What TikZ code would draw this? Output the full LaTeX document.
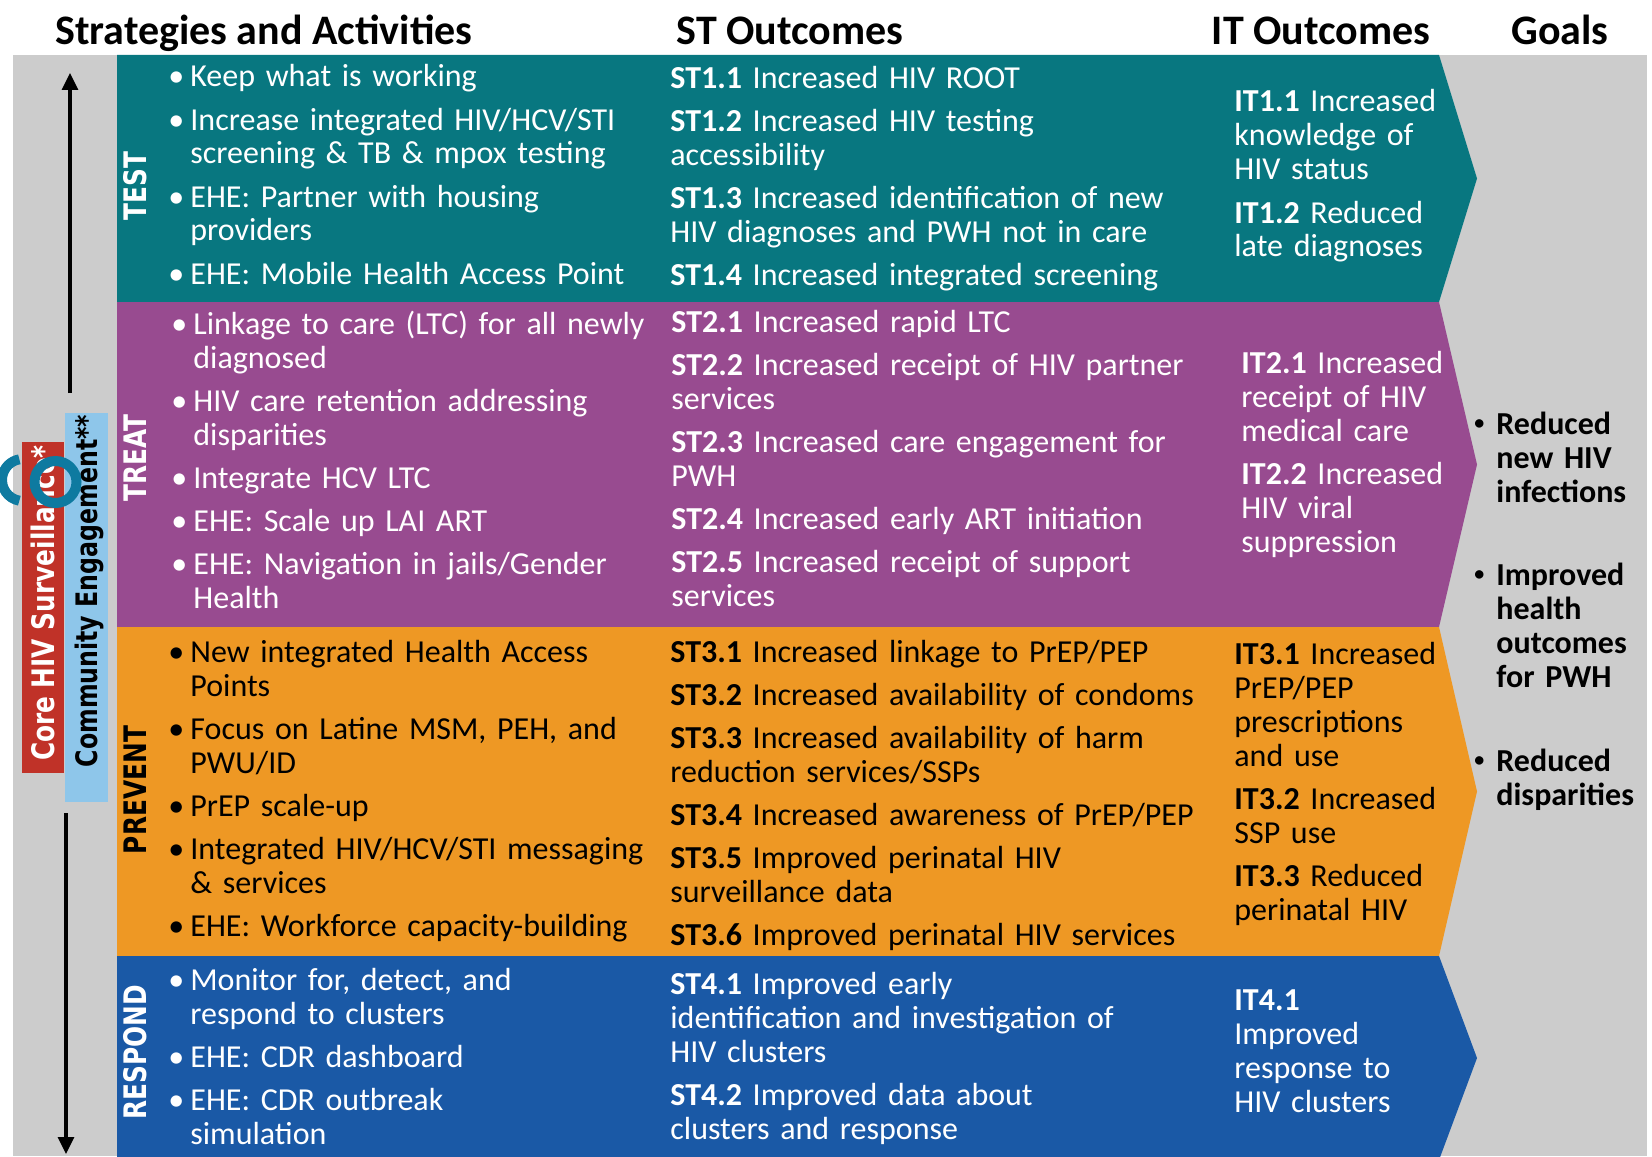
\documentclass[tikz,border=0pt]{standalone}
\usepackage{fontspec}
\setmainfont{Carlito}
\newfontfamily\lblfont[FakeStretch=0.8]{DejaVu Sans}
\usetikzlibrary{arrows.meta}

\definecolor{bandteal}{RGB}{8,119,128}
\definecolor{bandpurple}{RGB}{152,75,144}
\definecolor{bandorange}{RGB}{238,152,36}
\definecolor{bandblue}{RGB}{26,89,166}
\definecolor{bggray}{RGB}{204,204,204}
\definecolor{corered}{RGB}{192,50,40}
\definecolor{commblue}{RGB}{142,198,234}
\definecolor{ringblue}{RGB}{14,122,160}

\newcommand{\bul}{\leavevmode\llap{\textbullet\hspace{3pt}}}
\newcommand{\gbul}{\leavevmode\llap{\raisebox{2.5pt}{\fontsize{10}{10}\selectfont\textbullet}\hspace{6pt}}}

\begin{document}
\begin{tikzpicture}[x=0.5pt, y=-0.5pt,
  body/.style={anchor=base west, inner sep=0pt, align=left, font=\fontsize{16}{17}\selectfont},
  act/.style={body, text width=250pt},
  sto/.style={body, text width=290pt},
  ito/.style={body, text width=118pt},
  goal/.style={body, text width=80pt, font=\fontsize{16}{17}\selectfont\bfseries},
  head/.style={anchor=base, inner sep=0pt, font=\fontsize{21}{24}\selectfont\bfseries},
  side/.style={rotate=90, inner sep=0pt, font=\lblfont\bfseries\fontsize{15.5}{17}\selectfont},
  axis/.style={line width=1.6pt, -{Triangle[length=8.5pt,width=8pt]}}]
  \useasboundingbox (0,0) rectangle (1652,1156);

  % background
  \fill[bggray] (13,55) rectangle (1647,1156);

  % headers
  \node[head] (hsa) at (264,45) {Strategies and Activities};
  \node[head] (hst) at (790,45) {ST Outcomes};
  \node[head] (hit) at (1321,45) {IT Outcomes};
  \node[head] (hgo) at (1560,45) {Goals};

  % bands
  \foreach \c/\t/\b in {bandteal/55/302, bandpurple/302/627, bandorange/627/956, bandblue/956/1160}
    \fill[\c] (117,\t) -- (1439,\t) -- (1477,{(\t+\b)/2}) -- (1439,\b) -- (117,\b) -- cycle;

  % band labels
  \foreach \y/\t/\c in {186/TEST/white, 458/TREAT/white, 790/PREVENT/black, 1052/RESPOND/white}
    \node[side, text=\c] (lbl\t) at (135,\y) {\t};

  % cross-cutting bars
  \fill[corered] (22,442) rectangle (64,773);
  \fill[commblue] (65,413) rectangle (108,802);
  \node[side, text=white] (core) at (43,603) {Core HIV Surveillance*};
  \node[side, text=black, font=\lblfont\bfseries\fontsize{14.8}{17}\selectfont] (comm) at (89,591) {Community Engagement**};

  % arrows
  \coordinate (upbot) at (70,393);
  \coordinate (uptop) at (70,73);
  \coordinate (dntop) at (66,813);
  \coordinate (dnbot) at (66,1154);
  \draw[axis] (upbot) -- (uptop);
  \draw[axis] (dntop) -- (dnbot);

  % test
  \node[act, text=white] (actA) at (190,87) {\bul Keep what is working\\[4.5pt]
    \bul Increase integrated HIV/HCV/STI\\screening \& TB \& mpox testing\\[4.5pt]
    \bul EHE: Partner with housing\\providers\\[4.5pt]
    \bul EHE: Mobile Health Access Point};
  \node[sto, text=white] (stA) at (670,89) {\textbf{ST1.1} Increased HIV ROOT\\[4.5pt]
    \textbf{ST1.2} Increased HIV testing\\accessibility\\[4.5pt]
    \textbf{ST1.3} Increased identification of new\\HIV diagnoses and PWH not in care\\[4.5pt]
    \textbf{ST1.4} Increased integrated screening};
  \node[ito, text=white] (itA) at (1234,112) {\textbf{IT1.1} Increased\\knowledge of\\HIV status\\[4.5pt]
    \textbf{IT1.2} Reduced\\late diagnoses};

  % treat
  \node[act, text=white] (actB) at (193,334) {\bul Linkage to care (LTC) for all newly\\diagnosed\\[4.5pt]
    \bul HIV care retention addressing\\disparities\\[4.5pt]
    \bul Integrate HCV LTC\\[4.5pt]
    \bul EHE: Scale up LAI ART\\[4.5pt]
    \bul EHE: Navigation in jails/Gender\\Health};
  \node[sto, text=white] (stB) at (671,332) {\textbf{ST2.1} Increased rapid LTC\\[4.5pt]
    \textbf{ST2.2} Increased receipt of HIV partner\\services\\[4.5pt]
    \textbf{ST2.3} Increased care engagement for\\PWH\\[4.5pt]
    \textbf{ST2.4} Increased early ART initiation\\[4.5pt]
    \textbf{ST2.5} Increased receipt of support\\services};
  \node[ito, text=white] (itB) at (1241,373) {\textbf{IT2.1} Increased\\receipt of HIV\\medical care\\[4.5pt]
    \textbf{IT2.2} Increased\\HIV viral\\suppression};

  % prevent
  \node[act, text=black] (actC) at (190,662) {\bul New integrated Health Access\\Points\\[4.5pt]
    \bul Focus on Latine MSM, PEH, and\\PWU/ID\\[4.5pt]
    \bul PrEP scale-up\\[4.5pt]
    \bul Integrated HIV/HCV/STI messaging\\\& services\\[4.5pt]
    \bul EHE: Workforce capacity-building};
  \node[sto, text=black] (stC) at (670,662) {\textbf{ST3.1} Increased linkage to PrEP/PEP\\[4.5pt]
    \textbf{ST3.2} Increased availability of condoms\\[4.5pt]
    \textbf{ST3.3} Increased availability of harm\\reduction services/SSPs\\[4.5pt]
    \textbf{ST3.4} Increased awareness of PrEP/PEP\\[4.5pt]
    \textbf{ST3.5} Improved perinatal HIV\\surveillance data\\[4.5pt]
    \textbf{ST3.6} Improved perinatal HIV services};
  \node[ito, text=black] (itC) at (1234,664) {\textbf{IT3.1} Increased\\PrEP/PEP\\prescriptions\\and use\\[4.5pt]
    \textbf{IT3.2} Increased\\SSP use\\[4.5pt]
    \textbf{IT3.3} Reduced\\perinatal HIV};

  % respond
  \node[act, text=white] (actD) at (190,990) {\bul Monitor for, detect, and\\respond to clusters\\[4.5pt]
    \bul EHE: CDR dashboard\\[4.5pt]
    \bul EHE: CDR outbreak\\simulation};
  \node[sto, text=white] (stD) at (670,994) {\textbf{ST4.1} Improved early\\identification and investigation of\\HIV clusters\\[4.5pt]
    \textbf{ST4.2} Improved data about\\clusters and response};
  \node[ito, text=white] (itD) at (1234,1010) {\textbf{IT4.1}\\Improved\\response to\\HIV clusters};

  % goals
  \node[goal] (goalA) at (1496,434) {\gbul Reduced\\new HIV\\infections};
  \node[goal] (goalB) at (1496,585) {\gbul Improved\\health\\outcomes\\for PWH};
  \node[goal] (goalC) at (1496,771) {\gbul Reduced\\disparities};

  % stray logo marks
  \draw[ringblue, line width=5pt] (55.5,482) circle [radius=21];
  \draw[ringblue, line width=5pt] (23,480) ++(100:21) arc [start angle=100, end angle=260, radius=21];
\end{tikzpicture}
\end{document}
